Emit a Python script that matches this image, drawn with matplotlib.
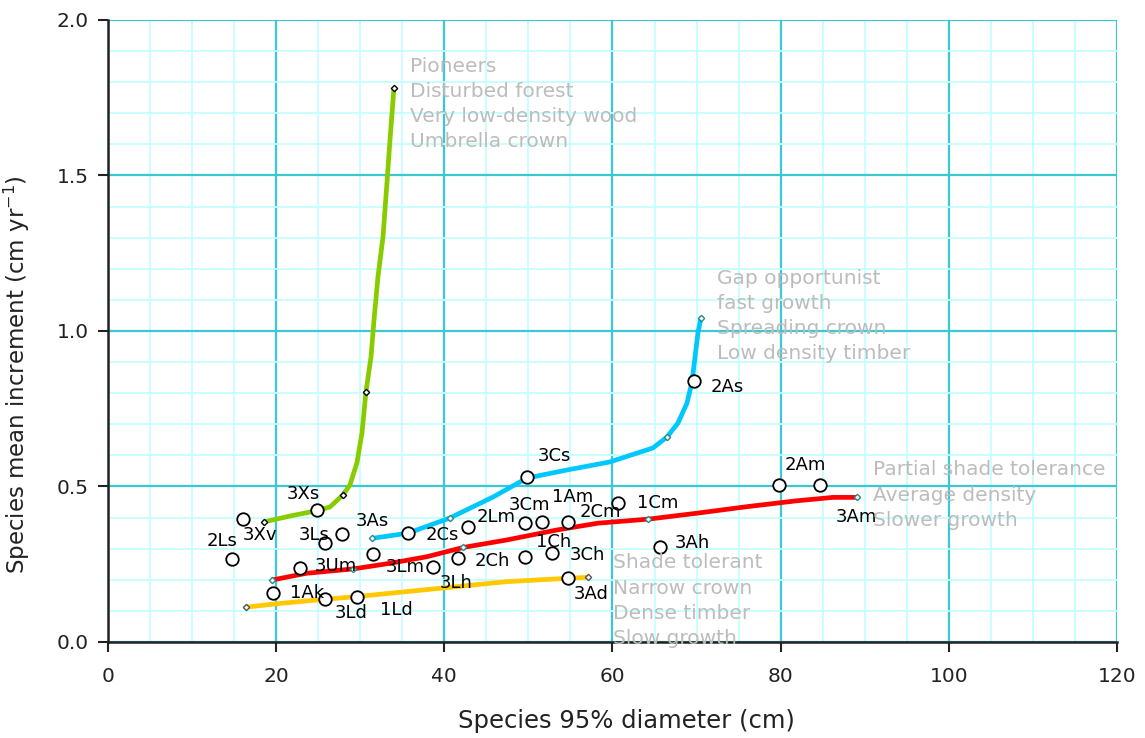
import matplotlib.pyplot as plt
from matplotlib.ticker import MultipleLocator

# Growth-strategy curves (diameter cm, increment cm/yr)
pioneer_x = [18.55, 21.65, 24.62, 26.40, 27.95, 28.78, 29.61, 30.21, 30.68,
             31.28, 31.64, 32.11, 32.71, 33.18, 33.54, 34.01]
pioneer_y = [0.386, 0.405, 0.421, 0.434, 0.473, 0.505, 0.576, 0.672, 0.804,
             0.916, 1.035, 1.174, 1.302, 1.476, 1.614, 1.781]
pioneer_nodes = [0, 4, 8, 15]

gap_x = [31.36, 35.68, 40.68, 45.79, 49.83, 54.59, 59.70, 64.82, 66.48,
         67.79, 68.86, 69.46, 69.82, 70.17, 70.53]
gap_y = [0.333, 0.350, 0.399, 0.466, 0.527, 0.553, 0.579, 0.624, 0.659,
         0.704, 0.768, 0.836, 0.916, 0.994, 1.042]
gap_nodes = [0, 2, 8, 14]

partial_x = [19.47, 23.63, 29.18, 33.54, 37.90, 42.26, 47.42, 53.37, 58.28,
             64.26, 70.02, 75.96, 81.91, 86.26, 89.05]
partial_y = [0.199, 0.221, 0.235, 0.253, 0.274, 0.304, 0.328, 0.360, 0.382,
             0.395, 0.414, 0.435, 0.454, 0.465, 0.465]
partial_nodes = [0, 2, 5, 9, 14]

shade_x = [16.41, 20.46, 25.61, 29.58, 35.53, 41.47, 47.42, 54.75, 57.12]
shade_y = [0.112, 0.124, 0.137, 0.146, 0.162, 0.178, 0.194, 0.205, 0.208]
shade_nodes = [0, 8]

# Species observations
species_x = [14.75, 16.1, 24.82, 25.8, 27.8, 22.84, 19.66, 25.8, 29.65,
             31.56, 35.72, 38.69, 41.67, 42.85, 49.6, 51.58, 54.75, 49.6,
             52.77, 54.75, 49.8, 60.7, 65.65, 69.7, 79.8, 84.68]
species_y = [0.267, 0.395, 0.424, 0.317, 0.346, 0.239, 0.157, 0.137, 0.144,
             0.282, 0.350, 0.242, 0.269, 0.371, 0.382, 0.387, 0.387, 0.274,
             0.287, 0.205, 0.530, 0.448, 0.305, 0.839, 0.505, 0.505]

# Species codes and where their text sits
code_names = ['2Ls', '3Xv', '3Xs', '3Ls', '3As', '3Um', '1Ak', '3Ld', '1Ld',
              '3Lm', '2Cs', '3Lh', '2Ch', '2Lm', '3Cm', '1Am', '2Cm', '1Cm',
              '1Ch', '3Ch', '3Ad', '3Ah', '3Cs', '2As', '2Am', '3Am']
code_x = [13.62, 18.08, 23.25, 24.5, 31.46, 27.12, 23.73, 28.96, 34.25,
          35.32, 39.78, 41.45, 45.73, 46.21, 50.07, 55.25, 58.52, 65.35,
          52.98, 56.97, 57.5, 69.52, 53.04, 73.68, 82.9, 88.96]
code_y = [0.325, 0.344, 0.476, 0.344, 0.389, 0.244, 0.158, 0.093, 0.103,
          0.241, 0.344, 0.190, 0.260, 0.402, 0.441, 0.466, 0.418, 0.447,
          0.322, 0.280, 0.154, 0.318, 0.598, 0.820, 0.569, 0.402]

group_text = ['Pioneers\nDisturbed forest\nVery low-density wood\nUmbrella crown',
              'Gap opportunist\nfast growth\nSpreading crown\nLow density timber',
              'Partial shade tolerance\nAverage density\nSlower growth',
              'Shade tolerant\nNarrow crown\nDense timber\nSlow growth']
group_x = [35.9, 72.4, 91.0, 60.1]
group_y = [1.882, 1.200, 0.584, 0.285]

fig = plt.figure(figsize=(11.45, 7.38), dpi=100)
ax = fig.add_axes([0.0943, 0.1301, 0.8812, 0.8428])

ax.set_xlim(0, 120)
ax.set_ylim(0, 2.0)
ax.xaxis.set_major_locator(MultipleLocator(20))
ax.xaxis.set_minor_locator(MultipleLocator(5))
ax.yaxis.set_major_locator(MultipleLocator(0.5))
ax.yaxis.set_minor_locator(MultipleLocator(0.1))
ax.yaxis.set_major_formatter(lambda v, p: f'{v:.1f}')
ax.grid(which='minor', color='#c4ffff', linewidth=1.3, zorder=0)
ax.grid(which='major', color='#3cc8d2', linewidth=1.6, zorder=0)
ax.set_axisbelow(True)
ax.tick_params(which='minor', length=0)
ax.tick_params(which='major', direction='out', length=7, width=1.5,
               labelsize=14.5, colors='#222222')
ax.tick_params(axis='x', pad=11)
ax.tick_params(axis='y', pad=7)
for s in ['top', 'right']:
    ax.spines[s].set_visible(False)
for s in ['left', 'bottom']:
    ax.spines[s].set_linewidth(1.8)
    ax.spines[s].set_color('#222222')

curves = [(pioneer_x, pioneer_y, pioneer_nodes, '#88cc00', 'black'),
          (gap_x, gap_y, gap_nodes, '#00c8ff', '#2a8a8a'),
          (partial_x, partial_y, partial_nodes, '#ff0000', '#2a8a8a'),
          (shade_x, shade_y, shade_nodes, '#ffc800', '#555555')]
for cx, cy, nodes, col, mcol in curves:
    ax.plot(cx, cy, color=col, linewidth=3.4, solid_capstyle='butt', zorder=3)
    ax.plot([cx[i] for i in nodes], [cy[i] for i in nodes], linestyle='none',
            marker='D', markersize=3.2, markerfacecolor='white',
            markeredgecolor=mcol, markeredgewidth=1.0, zorder=4)

ax.plot(species_x, species_y, linestyle='none', marker='o', markersize=9,
        markerfacecolor='white', markeredgecolor='black', markeredgewidth=1.3,
        zorder=5)

for name, tx, ty in zip(code_names, code_x, code_y):
    ax.text(tx, ty, name, ha='center', va='center', fontsize=13,
            color='black', zorder=6)

for txt, tx, ty in zip(group_text, group_x, group_y):
    ax.text(tx, ty, txt, ha='left', va='top', fontsize=14.5, color='#bcbcbc',
            linespacing=1.41, zorder=7)

ax.set_xlabel('Species 95% diameter (cm)', fontsize=17.5, color='#222222')
ax.set_ylabel('Species mean increment (cm yr$^{-1}$)', fontsize=16.5,
              color='#222222')
ax.xaxis.set_label_coords(0.514, -0.107)
ax.yaxis.set_label_coords(-0.075, 0.43)

fig.savefig('out.png', dpi=100)
plt.close(fig)
